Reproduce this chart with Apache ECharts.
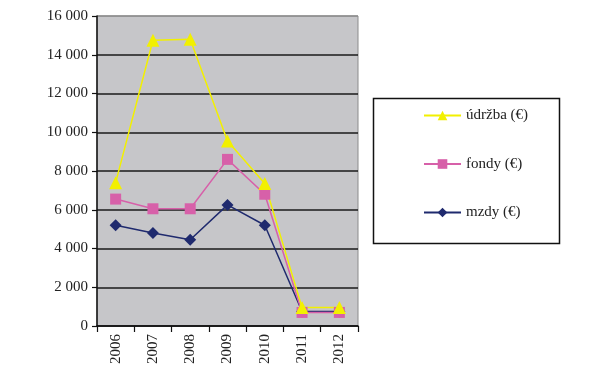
<!DOCTYPE html>
<html>
<head>
<meta charset="utf-8">
<script src="https://cdn.jsdelivr.net/npm/echarts@6/dist/echarts.min.js"></script>
<style>html,body{margin:0;padding:0;background:#fff}#c{width:600px;height:380px}</style>
</head>
<body>
<div id="c"></div>
<script>
const years = ['2006','2007','2008','2009','2010','2011','2012'];
const udrzba = [7400, 14750, 14800, 9550, 7350, 950, 950];
const fondy = [6550, 6050, 6050, 8600, 6800, 700, 700];
const mzdy = [5200, 4800, 4450, 6250, 5200, 750, 750];
const names = ['údržba (€)', 'fondy (€)', 'mzdy (€)'];
const yTicks = { min: 0, max: 16000, interval: 2000 };

const font = 'Liberation Serif';
const chart = echarts.init(document.getElementById('c'), null, {renderer: 'canvas'});
chart.setOption({
  animation: false,
  backgroundColor: '#fff',
  grid: { left: 97, right: 242, top: 16, bottom: 54, show: true, backgroundColor: '#c6c6c9', borderColor: '#8c8c8c', borderWidth: 1 },
  xAxis: {
    type: 'category', data: years, boundaryGap: true,
    axisLine: { lineStyle: { color: '#111', width: 1.5 } },
    axisTick: { show: true, length: 6, lineStyle: { color: '#111', width: 1.2 } },
    axisLabel: { rotate: 90, fontFamily: font, fontSize: 15, color: '#222', margin: 8 }
  },
  yAxis: {
    type: 'value', min: yTicks.min, max: yTicks.max, interval: yTicks.interval,
    axisLine: { show: true, lineStyle: { color: '#111', width: 1.5 } },
    axisTick: { show: true, length: 5, lineStyle: { color: '#111', width: 1.2 } },
    axisLabel: { fontFamily: font, fontSize: 15, color: '#222', margin: 9,
      formatter: v => String(v).replace(/\B(?=(\d{3})+(?!\d))/g, ' ') },
    splitLine: { lineStyle: { color: ['#1a1a1a','#1a1a1a','#1a1a1a','#1a1a1a','#1a1a1a','#1a1a1a','#1a1a1a','#1a1a1a','#8c8c8c'], width: 1.5 } }
  },
  legend: {
    orient: 'vertical', left: 418, top: 103, itemWidth: 37, itemHeight: 12, itemGap: 33.5,
    data: names,
    textStyle: { fontFamily: font, fontSize: 15, color: '#222' }
  },
  graphic: [{ type: 'rect', shape: { x: 373.5, y: 98.5, width: 186, height: 145 }, style: { fill: 'none', stroke: '#111', lineWidth: 1.5 } }],
  series: [
    { name: names[2], type: 'line', data: mzdy, symbol: 'diamond', symbolSize: 12,
      color: '#1f2a6e', lineStyle: { width: 1.5 }, itemStyle: { color: '#1f2a6e' } },
    { name: names[1], type: 'line', data: fondy, symbol: 'rect', symbolSize: 11,
      color: '#d760a9', lineStyle: { width: 1.5 }, itemStyle: { color: '#d760a9' } },
    { name: names[0], type: 'line', data: udrzba, symbol: 'triangle', symbolSize: 13,
      color: '#f2f000', lineStyle: { width: 1.5 }, itemStyle: { color: '#f2f000' } }
  ]
});
</script>
</body>
</html>
